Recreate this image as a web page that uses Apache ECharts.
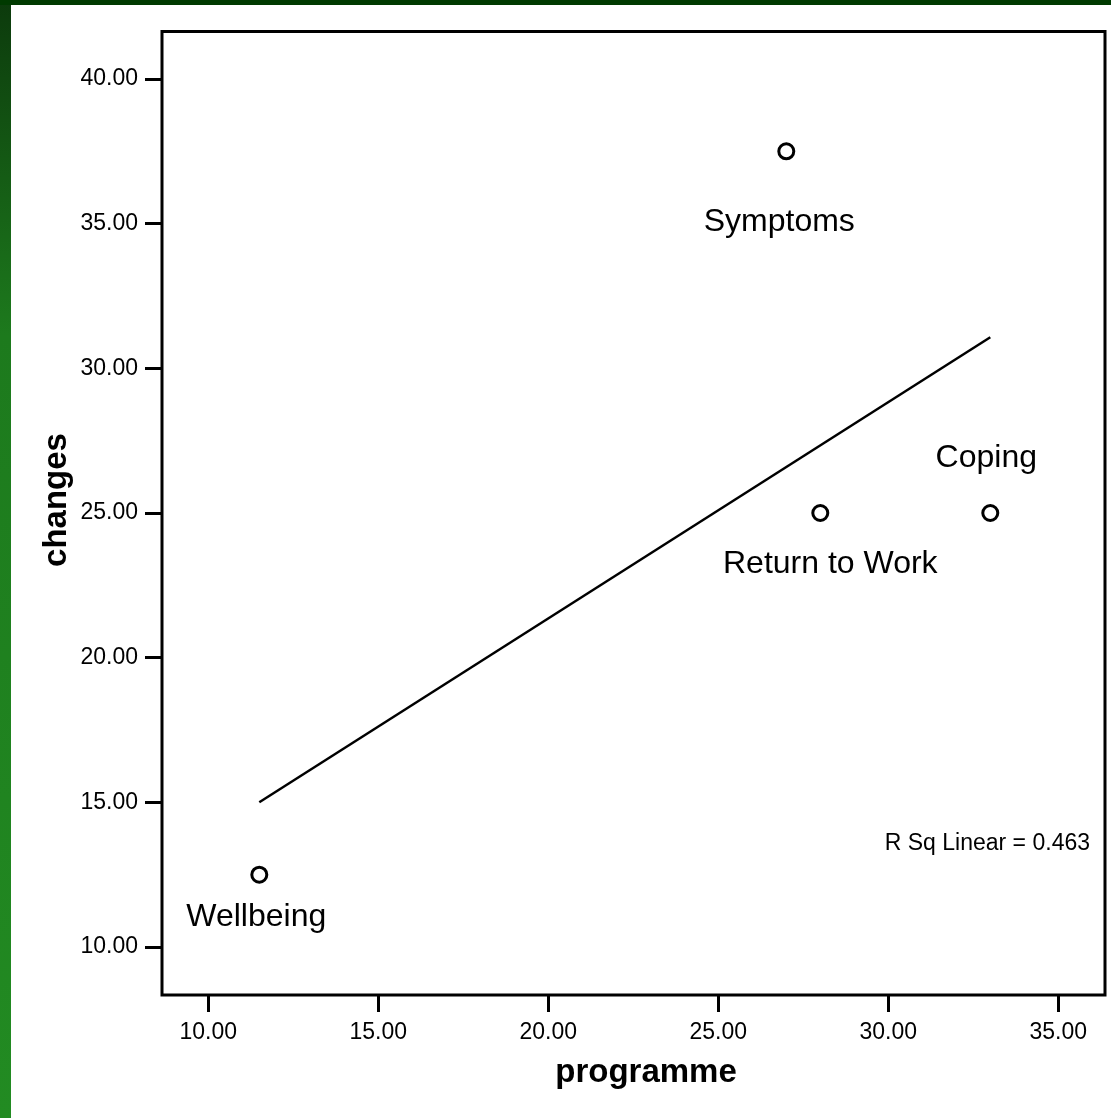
<!DOCTYPE html>
<html>
<head>
<meta charset="utf-8">
<style>
  html, body { margin: 0; padding: 0; background: #ffffff; }
  #chart { width: 1111px; height: 1118px; }
</style>
<script src="https://cdn.jsdelivr.net/npm/echarts@6/dist/echarts.min.js"></script>
</head>
<body>
<div id="chart"></div>
<script>
// ---- data ----
const categories = ['Wellbeing', 'Symptoms', 'Return to Work', 'Coping'];
const xValues = [11.5, 27, 28, 33];
const yValues = [12.5, 37.5, 25, 25];
const xTicks = [10, 15, 20, 25, 30, 35];
const yTicks = [10, 15, 20, 25, 30, 35, 40];
const xTitle = 'programme';
const yTitle = 'changes';
const rSqText = 'R Sq Linear = 0.463';

// ---- label placement (style, not data) ----
const labelOffsets = [[-3, 43], [-7, 71], [10, 51], [-4, -55]];

// ---- linear fit (least squares) ----
const n = xValues.length;
const mx = xValues.reduce((a, b) => a + b, 0) / n;
const my = yValues.reduce((a, b) => a + b, 0) / n;
let sxy = 0, sxx = 0;
for (let i = 0; i < n; i++) { sxy += (xValues[i] - mx) * (yValues[i] - my); sxx += (xValues[i] - mx) ** 2; }
const slope = sxy / sxx;
const intercept = my - slope * mx;
const xMin = Math.min(...xValues), xMax = Math.max(...xValues);
const fitLine = [[xMin, intercept + slope * xMin], [xMax, intercept + slope * xMax]];

const FONT = "'Liberation Sans', Arial, Helvetica, sans-serif";

const chart = echarts.init(document.getElementById('chart'), null, { renderer: 'canvas' });
chart.setOption({
  animation: false,
  backgroundColor: '#ffffff',
  grid: {
    left: 162, right: 6, top: 31.5, bottom: 123,
    show: true, borderColor: '#000', borderWidth: 3, backgroundColor: 'transparent'
  },
  xAxis: {
    type: 'value', min: 8.638, max: 36.374,
    axisLine: { show: false },
    splitLine: { show: false },
    axisTick: { show: true, length: 17, lineStyle: { color: '#000', width: 3 }, customValues: xTicks },
    axisLabel: { customValues: xTicks, formatter: v => v.toFixed(2), fontSize: 23, color: '#000', fontFamily: FONT, margin: 26 }
  },
  yAxis: {
    type: 'value', min: 8.341, max: 41.642,
    axisLine: { show: false },
    splitLine: { show: false },
    axisTick: { show: true, length: 17, lineStyle: { color: '#000', width: 3 }, customValues: yTicks },
    axisLabel: { customValues: yTicks, formatter: v => v.toFixed(2), fontSize: 23, color: '#000', fontFamily: FONT, margin: 24 }
  },
  graphic: [
    { type: 'rect', left: 0, top: 0, z: -10, shape: { width: 11, height: 1118 },
      style: { fill: new echarts.graphic.LinearGradient(0, 0, 0, 1, [
        { offset: 0, color: '#0c3a0c' }, { offset: 0.3, color: '#1d7a1d' }, { offset: 1, color: '#228b22' }]) } },
    { type: 'rect', left: 0, top: 0, z: -9, shape: { width: 1111, height: 5 }, style: { fill: '#003a00' } },
    { type: 'text', x: 57, y: 500, rotation: Math.PI / 2, z: 10,
      style: { text: yTitle, font: "bold 33px " + FONT, fill: '#000', align: 'center', verticalAlign: 'middle' } },
    { type: 'text', x: 646, y: 1073, z: 10,
      style: { text: xTitle, font: "bold 33px " + FONT, fill: '#000', align: 'center', verticalAlign: 'middle' } },
    { type: 'text', x: 1090, y: 844, z: 10,
      style: { text: rSqText, font: "23px " + FONT, fill: '#000', align: 'right', verticalAlign: 'middle' } }
  ],
  series: [
    {
      type: 'line', data: fitLine, symbol: 'none', silent: true, z: 1,
      lineStyle: { color: '#000', width: 2.5 }
    },
    {
      type: 'scatter', z: 2,
      symbol: 'circle', symbolSize: 15,
      itemStyle: { color: '#fff', borderColor: '#000', borderWidth: 3, opacity: 1 },
      data: categories.map((c, i) => ({
        name: c, value: [xValues[i], yValues[i]],
        label: { show: true, position: 'inside', offset: labelOffsets[i], formatter: '{b}',
                 fontSize: 32, color: '#000', fontFamily: FONT, textBorderWidth: 0, opacity: 1 }
      }))
    }
  ]
});
</script>
</body>
</html>
